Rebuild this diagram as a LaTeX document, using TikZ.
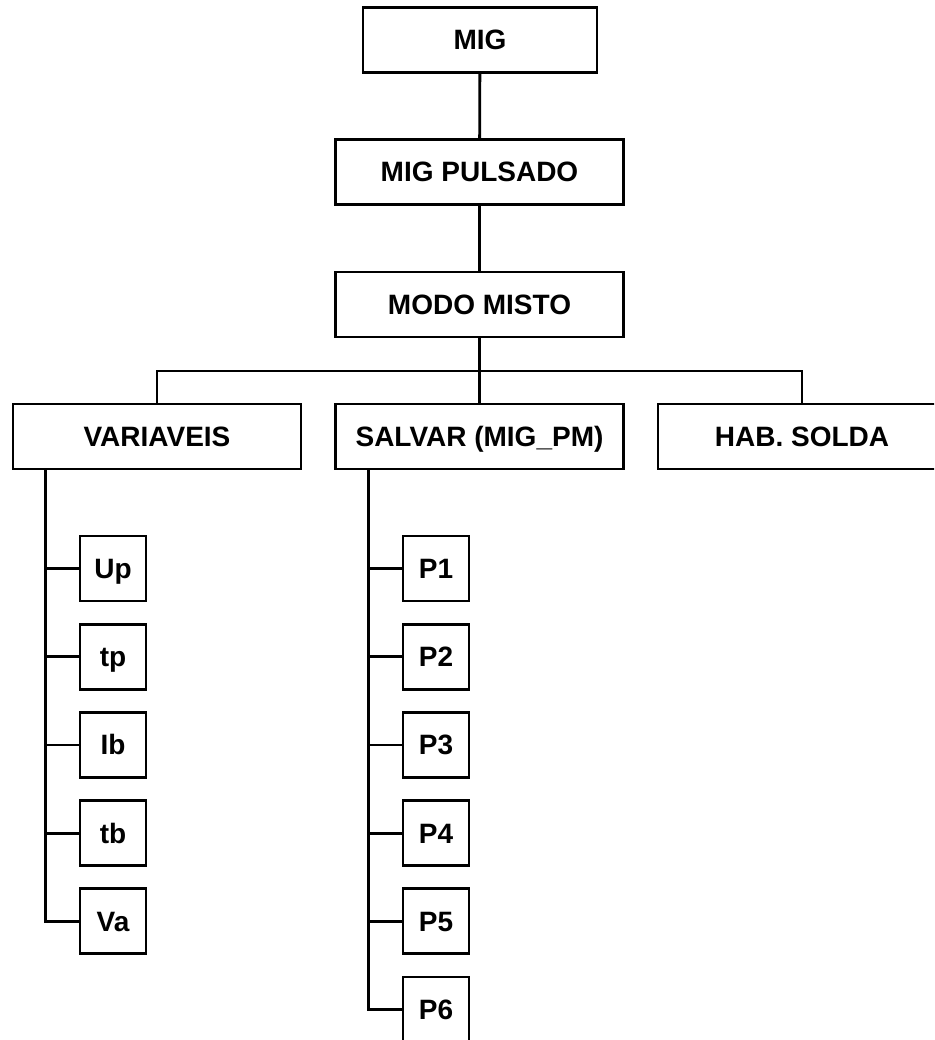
\documentclass[tikz,border=0pt]{standalone}
\usepackage{fontspec}
\setmainfont{Liberation Sans}
\usepackage{tikz}
\usetikzlibrary{positioning}
\tikzset{
  menubox/.style={draw, line width=2.8pt, fill=white, minimum width=288pt, minimum height=65pt, inner sep=0pt, text height=20pt, text depth=0pt, align=center},
  leafbox/.style={draw, line width=2.8pt, fill=white, minimum width=66pt, minimum height=65pt, inner sep=0pt, text height=20pt, text depth=0pt, align=center},
  treeline/.style={line width=2.8pt}
}

\begin{document}
\begin{tikzpicture}[x=1pt, y=-1pt, every node/.style={font=\bfseries\fontsize{28}{32}\selectfont}]
  \clip (0,0) rectangle (934,1040);
  \node[menubox, minimum width=234pt] (mig) at (480,40) {MIG};
  \node[menubox] (pulsado) at (479.5,172) {MIG PULSADO};
  \node[menubox] (misto) at (479.5,304.5) {MODO MISTO};
  \node[menubox] (variaveis) at (157,436.5) {VARIAVEIS};
  \node[menubox] (salvar) at (479.5,436.5) {SALVAR (MIG\_PM)};
  \node[menubox] (solda) at (802,436.5) {HAB. SOLDA};
  \coordinate (bar) at (479.5,371);
  \draw[treeline] (mig) -- (pulsado);
  \draw[treeline] (pulsado) -- (misto);
  \draw[treeline] (misto) -- (salvar);
  \draw[treeline] (variaveis.north) |- (bar) -| (solda.north);
  % variaveis
  \foreach \name/\txt [count=\i from 0] in {up/Up, tp/tp, ib/Ib, tb/tb, va/Va} {
    \node[leafbox] (\name) at (113,568.5+88.2*\i) {\txt};
    \draw[treeline] ([xshift=34pt]variaveis.south west) |- (\name.west);
  }
  % salvar
  \foreach \i in {1,...,6} {
    \node[leafbox] (p\i) at (436,568.5+88.2*\i-88.2) {P\i};
    \draw[treeline] ([xshift=34pt]salvar.south west) |- (p\i.west);
  }
\end{tikzpicture}
\end{document}
